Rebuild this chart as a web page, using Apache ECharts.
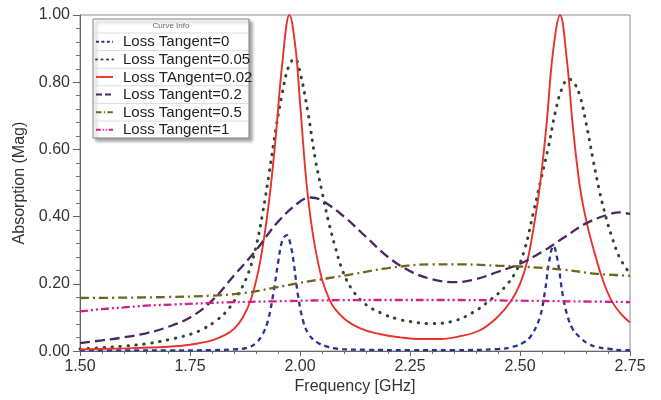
<!DOCTYPE html>
<html>
<head>
<meta charset="utf-8">
<script src="https://cdn.jsdelivr.net/npm/echarts@6/dist/echarts.min.js"></script>
<style>
  html, body { margin: 0; padding: 0; background: #ffffff; }
  #chart { width: 661px; height: 400px; }
</style>
</head>
<body>
<div id="chart"></div>
<script>
// Absorption vs frequency for several loss tangents: [GHz, magnitude]
const lossTan0 = [
  [1.50,0.002],[1.60,0.002],[1.70,0.002],[1.80,0.003],[1.85,0.005],[1.88,0.010],
  [1.90,0.024],[1.915,0.050],[1.927,0.09],[1.939,0.168],[1.95,0.262],[1.96,0.33],
  [1.97,0.345],[1.978,0.32],[1.986,0.26],[1.995,0.17],[2.007,0.09],[2.02,0.05],
  [2.039,0.026],[2.06,0.014],[2.084,0.007],[2.15,0.004],[2.25,0.003],[2.35,0.003],
  [2.45,0.006],[2.484,0.013],[2.51,0.027],[2.525,0.045],[2.545,0.10],[2.557,0.18],
  [2.566,0.265],[2.576,0.313],[2.586,0.265],[2.598,0.16],[2.609,0.10],[2.62,0.065],
  [2.636,0.041],[2.655,0.022],[2.675,0.012],[2.70,0.007],[2.734,0.003],[2.75,0.003]
];
const lossTan005 = [
  [1.50,0.006],[1.55,0.010],[1.60,0.015],[1.652,0.022],[1.705,0.035],[1.755,0.052],
  [1.78,0.066],[1.807,0.088],[1.834,0.12],[1.86,0.17],[1.882,0.23],[1.90,0.31],
  [1.915,0.41],[1.93,0.53],[1.945,0.66],[1.96,0.77],[1.975,0.85],[1.988,0.87],
  [2.00,0.83],[2.018,0.71],[2.035,0.57],[2.05,0.475],[2.064,0.39],[2.08,0.31],
  [2.098,0.235],[2.12,0.18],[2.15,0.138],[2.19,0.11],[2.22,0.096],[2.25,0.088],
  [2.295,0.082],[2.345,0.088],[2.393,0.115],[2.435,0.155],[2.465,0.19],[2.49,0.235],
  [2.51,0.30],[2.53,0.41],[2.548,0.513],[2.565,0.61],[2.58,0.71],[2.595,0.78],
  [2.61,0.81],[2.622,0.80],[2.636,0.76],[2.65,0.68],[2.666,0.57],[2.68,0.48],
  [2.695,0.40],[2.71,0.335],[2.727,0.277],[2.75,0.23]
];
const lossTan002 = [
  [1.50,0.005],[1.60,0.008],[1.70,0.013],[1.75,0.019],[1.80,0.032],[1.83,0.048],
  [1.85,0.066],[1.87,0.10],[1.89,0.16],[1.91,0.27],[1.93,0.45],[1.945,0.64],
  [1.96,0.86],[1.976,1.00],[1.99,0.90],[2.00,0.74],[2.018,0.46],[2.04,0.27],
  [2.068,0.15],[2.10,0.097],[2.14,0.066],[2.18,0.051],[2.227,0.041],[2.27,0.036],
  [2.32,0.036],[2.36,0.043],[2.409,0.062],[2.448,0.10],[2.48,0.15],[2.50,0.20],
  [2.516,0.265],[2.53,0.36],[2.545,0.49],[2.56,0.67],[2.575,0.89],[2.591,1.00],
  [2.607,0.86],[2.62,0.67],[2.636,0.49],[2.652,0.38],[2.67,0.29],[2.69,0.205],
  [2.709,0.148],[2.73,0.11],[2.75,0.085]
];
const lossTan02 = [
  [1.50,0.024],[1.55,0.032],[1.60,0.041],[1.65,0.053],[1.70,0.072],[1.75,0.100],
  [1.80,0.150],[1.85,0.225],[1.90,0.30],[1.95,0.385],[2.00,0.445],[2.025,0.457],
  [2.05,0.448],[2.10,0.40],[2.15,0.34],[2.20,0.28],[2.25,0.238],[2.30,0.214],
  [2.35,0.205],[2.40,0.214],[2.45,0.236],[2.50,0.26],[2.55,0.295],[2.60,0.338],
  [2.65,0.38],[2.70,0.406],[2.727,0.413],[2.75,0.408]
];
const lossTan05 = [
  [1.50,0.158],[1.60,0.159],[1.70,0.161],[1.80,0.165],[1.88,0.174],[1.94,0.188],
  [2.00,0.203],[2.06,0.216],[2.12,0.229],[2.20,0.247],[2.30,0.258],[2.37,0.258],
  [2.45,0.254],[2.51,0.251],[2.60,0.242],[2.675,0.23],[2.75,0.224]
];
const lossTan1 = [
  [1.50,0.118],[1.55,0.125],[1.60,0.13],[1.65,0.135],[1.72,0.139],[1.834,0.145],
  [1.94,0.148],[2.05,0.151],[2.20,0.152],[2.35,0.152],[2.50,0.150],[2.62,0.148],
  [2.75,0.146]
];

const seriesNames = [
  'Loss Tangent=0', 'Loss Tangent=0.05', 'Loss TAngent=0.02',
  'Loss Tangent=0.2', 'Loss Tangent=0.5', 'Loss Tangent=1'
];
const seriesData = [lossTan0, lossTan005, lossTan002, lossTan02, lossTan05, lossTan1];
const seriesStyles = [
  { color: '#2b3590', width: 2.3, type: [5, 4] },
  { color: '#2c4a2c', width: 3, type: [0.5, 7.5], cap: 'round' },
  { color: '#e8322c', width: 1.9, type: 'solid' },
  { color: '#4a2862', width: 2.3, type: [10, 5] },
  { color: '#6b681e', width: 2.3, type: [9, 4, 2, 4] },
  { color: '#d0208c', width: 2.3, type: [8, 3, 2, 3, 2, 3] }
];

const xTicks = { min: 1.5, max: 2.75, step: 0.25 };
const yTicks = { min: 0, max: 1, step: 0.2 };

const chart = echarts.init(document.getElementById('chart'), null, { renderer: 'canvas' });
const font = 'Liberation Sans, Arial, sans-serif';

// Legend box: a title row and one row per curve, each with a line sample
const box = { x: 93, y: 19, w: 156, h: 119 };
const rowTop = 33, rowH = 17.6;
const legendParts = [
  {
    type: 'rect', z: 10,
    shape: { x: box.x, y: box.y, width: box.w, height: box.h },
    style: { fill: '#ffffff', stroke: '#808080', lineWidth: 1,
      shadowColor: 'rgba(0,0,0,0.35)', shadowBlur: 3, shadowOffsetX: 3, shadowOffsetY: 3 }
  },
  {
    type: 'text', z: 11, x: box.x + box.w / 2, y: 26,
    style: { text: 'Curve Info', fontFamily: font, fontSize: 8, fill: '#666', align: 'center', verticalAlign: 'middle' }
  }
];
seriesNames.forEach((name, i) => {
  const yTop = rowTop + i * rowH;
  const yMid = yTop + rowH / 2;
  const st = seriesStyles[i];
  legendParts.push({
    type: 'line', z: 11,
    shape: { x1: box.x + 1, y1: yTop, x2: box.x + box.w - 1, y2: yTop },
    style: { stroke: '#dcdcdc', lineWidth: 1 }
  });
  legendParts.push({
    type: 'line', z: 11,
    shape: { x1: 96, y1: yMid, x2: 113, y2: yMid },
    style: { stroke: st.color, lineWidth: Math.min(st.width, 2),
      lineDash: Array.isArray(st.type) ? st.type.map(v => Math.max(v * 0.6, 1)) : null,
      lineCap: st.cap || 'butt' }
  });
  legendParts.push({
    type: 'text', z: 11, x: 123, y: yMid + 0.5,
    style: { text: name, fontFamily: font, fontSize: 15, fill: '#222', verticalAlign: 'middle' }
  });
});

chart.setOption({
  backgroundColor: '#ffffff',
  animation: false,
  grid: { left: 80, right: 31, top: 15, bottom: 46, show: true, borderColor: '#8c8c8c', borderWidth: 1 },
  xAxis: {
    type: 'value', min: xTicks.min, max: xTicks.max, interval: xTicks.step,
    name: 'Frequency [GHz]', nameLocation: 'middle', nameGap: 20,
    nameTextStyle: { fontFamily: font, fontSize: 16, color: '#333' },
    axisLine: { lineStyle: { color: '#666', width: 1 } },
    axisTick: { length: 5, lineStyle: { color: '#666' } },
    minorTick: { show: true, splitNumber: 5, length: 3, lineStyle: { color: '#777' } },
    splitLine: { show: false },
    axisLabel: { fontFamily: font, fontSize: 16, color: '#333', margin: 7, formatter: v => v.toFixed(2) }
  },
  yAxis: {
    type: 'value', min: yTicks.min, max: yTicks.max, interval: yTicks.step,
    name: 'Absorption (Mag)', nameLocation: 'middle', nameGap: 44,
    nameTextStyle: { fontFamily: font, fontSize: 16, color: '#333' },
    axisLine: { show: true, lineStyle: { color: '#666', width: 1 } },
    axisTick: { show: true, length: 7, lineStyle: { color: '#666' } },
    minorTick: { show: true, splitNumber: 5, length: 4, lineStyle: { color: '#777' } },
    splitLine: { show: false },
    axisLabel: { fontFamily: font, fontSize: 16, color: '#333', margin: 10, formatter: v => v.toFixed(2) }
  },
  graphic: legendParts,
  series: seriesNames.map((name, i) => ({
    name, type: 'line', data: seriesData[i], showSymbol: false, symbol: 'none',
    smooth: 0.4, z: 2,
    lineStyle: seriesStyles[i], itemStyle: { color: seriesStyles[i].color }
  }))
});
</script>
</body>
</html>
